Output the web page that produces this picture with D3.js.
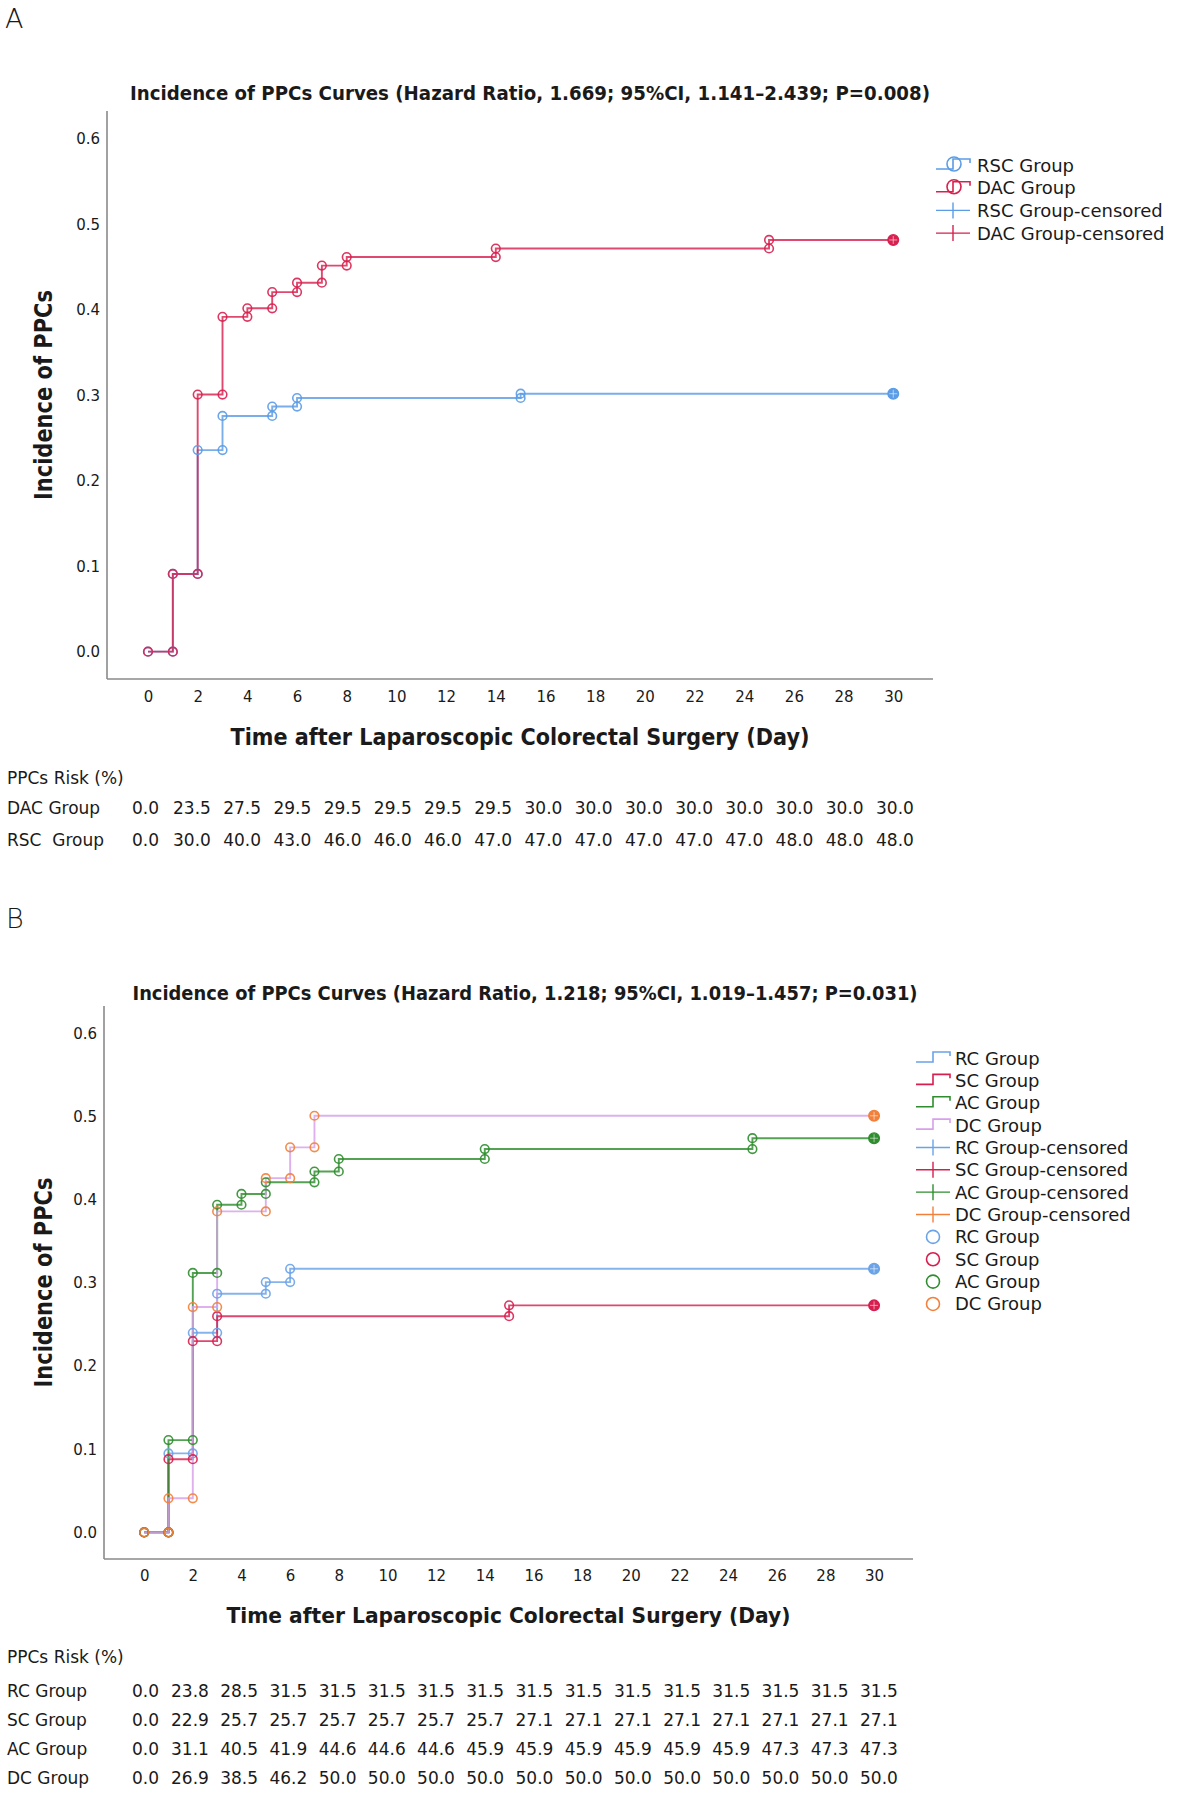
<!DOCTYPE html>
<html><head><meta charset="utf-8">
<script src="https://cdn.jsdelivr.net/npm/d3@7"></script>
<style>
html,body{margin:0;padding:0;background:#fff;}
svg{display:block;font-family:"DejaVu Sans",sans-serif;}
</style></head><body>
<svg id="c" width="1181" height="1797"></svg>
<script>
// ---------------- DATA ----------------
const xTicks = [0,2,4,6,8,10,12,14,16,18,20,22,24,26,28,30];
const yTicks = [0.0,0.1,0.2,0.3,0.4,0.5,0.6];
const endDay = 30;

// Panel A – cumulative incidence after each event day
const timesA_RSC = [0, 1, 2, 3, 5, 6, 15];
const incA_RSC   = [0, 0.091, 0.236, 0.276, 0.287, 0.297, 0.302];
const timesA_DAC = [0, 1, 2, 3, 4, 5, 6, 7, 8, 14, 25];
const incA_DAC   = [0, 0.091, 0.301, 0.392, 0.402, 0.421, 0.432, 0.452, 0.462, 0.472, 0.482];

// Panel B
const timesB_RC = [0, 1, 2, 3, 5, 6];
const incB_RC   = [0, 0.095, 0.240, 0.287, 0.301, 0.317];
const timesB_SC = [0, 1, 2, 3, 15];
const incB_SC   = [0, 0.088, 0.230, 0.260, 0.273];
const timesB_AC = [0, 1, 2, 3, 4, 5, 7, 8, 14, 25];
const incB_AC   = [0, 0.111, 0.312, 0.394, 0.407, 0.421, 0.434, 0.449, 0.461, 0.474];
const timesB_DC = [0, 1, 2, 3, 5, 6, 7];
const incB_DC   = [0, 0.041, 0.271, 0.386, 0.426, 0.463, 0.501];

// Risk tables
const riskHeader = "PPCs Risk (%)";
const riskA_DAC = [0.0,23.5,27.5,29.5,29.5,29.5,29.5,29.5,30.0,30.0,30.0,30.0,30.0,30.0,30.0,30.0];
const riskA_RSC = [0.0,30.0,40.0,43.0,46.0,46.0,46.0,47.0,47.0,47.0,47.0,47.0,47.0,48.0,48.0,48.0];
const riskB_RC = [0.0,23.8,28.5,31.5,31.5,31.5,31.5,31.5,31.5,31.5,31.5,31.5,31.5,31.5,31.5,31.5];
const riskB_SC = [0.0,22.9,25.7,25.7,25.7,25.7,25.7,25.7,27.1,27.1,27.1,27.1,27.1,27.1,27.1,27.1];
const riskB_AC = [0.0,31.1,40.5,41.9,44.6,44.6,44.6,45.9,45.9,45.9,45.9,45.9,45.9,47.3,47.3,47.3];
const riskB_DC = [0.0,26.9,38.5,46.2,50.0,50.0,50.0,50.0,50.0,50.0,50.0,50.0,50.0,50.0,50.0,50.0];

const titleA = "Incidence of PPCs Curves (Hazard Ratio, 1.669; 95%CI, 1.141\u20132.439; P=0.008)";
const titleB = "Incidence of PPCs Curves (Hazard Ratio, 1.218; 95%CI, 1.019\u20131.457; P=0.031)";
const xLabel = "Time after Laparoscopic Colorectal Surgery (Day)";
const yLabel = "Incidence of PPCs";

// ---------------- STYLE ----------------
const C = {
  blueA:"#5b9ce6", redA:"#d8214f",
  blue:"#6aa3e8", red:"#d81e4e", green:"#2f8d2f", violet:"#d7a0ea", orange:"#f2803a",
  axis:"#8a8a8a", text:"#1a1a1a"
};

const svg = d3.select("#c");
svg.append("rect").attr("width",1181).attr("height",1797).attr("fill","#fff");

function drawPanel(cfg){
  const g = svg.append("g");
  const x = d3.scaleLinear().domain([-1.65, 31.6]).range([cfg.left, cfg.right]);
  const y = d3.scaleLinear().domain([-0.032, 0.633]).range([cfg.bottom, cfg.top]);

  // panel letter
  g.append("text").attr("x",cfg.letterX).attr("y",cfg.letterY).text(cfg.letter)
    .attr("font-size",27).attr("font-weight",200).attr("fill",C.text);

  // title
  g.append("text").attr("x",cfg.titleX).attr("y",cfg.titleY).attr("text-anchor","middle")
    .attr("font-size",20).attr("font-weight","bold").attr("fill",C.text)
    .attr("textLength",cfg.titleLen).attr("lengthAdjust","spacingAndGlyphs").text(cfg.title);

  // axes
  const ax = g.append("g").attr("transform",`translate(0,${cfg.bottom})`)
    .call(d3.axisBottom(x).tickValues(xTicks).tickSize(0).tickSizeOuter(0).tickPadding(cfg.xPad));
  const ay = g.append("g").attr("transform",`translate(${cfg.left},0)`)
    .call(d3.axisLeft(y).tickValues(yTicks).tickFormat(d3.format(".1f")).tickSize(0).tickSizeOuter(0).tickPadding(7));
  [ax,ay].forEach(a=>{
    a.select(".domain").attr("stroke",C.axis).attr("stroke-width",1.6);
    a.selectAll("text").attr("font-size",15).attr("fill",C.text).attr("font-family","DejaVu Sans");
  });
  ay.select(".domain").attr("d",`M0,${cfg.top}V${cfg.bottom}`);
  ax.select(".domain").attr("d",`M${cfg.left},0H${cfg.right}`);

  // axis titles
  g.append("text").attr("x",(cfg.left+cfg.right)/2).attr("y",cfg.xLabelY).attr("text-anchor","middle")
    .attr("font-size",cfg.xLabelSize).attr("font-weight","bold").attr("fill",C.text)
    .attr("textLength",cfg.xLabelLen).attr("lengthAdjust","spacingAndGlyphs").text(xLabel);
  g.append("text").attr("transform",`translate(${cfg.yLabelX},${(cfg.top+cfg.bottom)/2}) rotate(-90)`)
    .attr("text-anchor","middle").attr("font-size",25).attr("font-weight","bold").attr("fill",C.text)
    .attr("textLength",210).attr("lengthAdjust","spacingAndGlyphs").text(yLabel);

  // curves
  const line = d3.line().x(d=>x(d[0])).y(d=>y(d[1])).curve(d3.curveStepAfter);
  cfg.series.forEach(s=>{
    const pts = s.times.map((t,i)=>[t,s.inc[i]]);
    const last = s.inc[s.inc.length-1];
    pts.push([endDay,last]);
    g.append("path").attr("d",line(pts)).attr("fill","none")
      .attr("stroke",s.line).attr("stroke-width",1.9).attr("stroke-opacity",0.82);
  });
  cfg.series.forEach(s=>{
    const marks = [[s.times[0],s.inc[0]]];
    for(let i=1;i<s.times.length;i++){ marks.push([s.times[i],s.inc[i-1]]); marks.push([s.times[i],s.inc[i]]); }
    g.selectAll(null).data(marks).enter().append("circle")
      .attr("cx",d=>x(d[0])).attr("cy",d=>y(d[1])).attr("r",4.3)
      .attr("fill","none").attr("stroke",s.mark).attr("stroke-width",1.6).attr("stroke-opacity",0.9);
    // censored end marker
    const last = s.inc[s.inc.length-1];
    const ex = x(endDay), ey = y(last);
    g.append("circle").attr("cx",ex).attr("cy",ey).attr("r",5.3)
      .attr("fill",s.mark).attr("stroke",s.mark).attr("stroke-width",1.4);
    g.append("path").attr("d",`M${ex-4},${ey}H${ex+4}M${ex},${ey-4}V${ey+4}`)
      .attr("stroke","#fff").attr("stroke-opacity",0.55).attr("stroke-width",1);
  });

  // legend
  const lg = g.append("g");
  cfg.legend.forEach((it,i)=>{
    const ty = cfg.legY + i*cfg.legStep, x0 = cfg.legX;
    if(it.type==="step" || it.type==="stepcircle"){
      lg.append("path").attr("d",`M${x0},${ty+4}H${x0+17}V${ty-6}H${x0+34}V${ty-2}`)
        .attr("fill","none").attr("stroke",it.color).attr("stroke-width",1.6);
      if(it.type==="stepcircle")
        lg.append("circle").attr("cx",x0+18).attr("cy",ty-1).attr("r",7)
          .attr("fill","none").attr("stroke",it.color).attr("stroke-width",1.6);
    } else if(it.type==="cens"){
      lg.append("path").attr("d",`M${x0},${ty}H${x0+34}M${x0+17},${ty-8}V${ty+8}`)
        .attr("fill","none").attr("stroke",it.color).attr("stroke-width",1.4);
    } else {
      lg.append("circle").attr("cx",x0+17).attr("cy",ty).attr("r",6.5)
        .attr("fill","none").attr("stroke",it.color).attr("stroke-width",1.6);
    }
    lg.append("text").attr("x",cfg.legTextX).attr("y",ty+6.5).text(it.label)
      .attr("font-size",18).attr("fill",C.text);
  });

  // risk table: first column, then evenly spaced remaining columns
  const tg = g.append("g").attr("font-size",17).attr("fill",C.text);
  tg.append("text").attr("x",7).attr("y",cfg.tabHeadY+6).text(riskHeader);
  const cx = d3.scaleLinear().domain([1,15]).range([cfg.tabSecondX,cfg.tabLastX]);
  const colX = j => j===0 ? 132 : cx(j);
  cfg.table.forEach((r,i)=>{
    const ry = cfg.tabRowY + i*cfg.tabRowStep + 6;
    tg.append("text").attr("x",7).attr("y",ry).attr("xml:space","preserve").style("white-space","pre").text(r.label);
    tg.selectAll(null).data(r.values).enter().append("text")
      .attr("x",(d,j)=>colX(j)).attr("y",ry).text(d=>d3.format(".1f")(d));
  });
}

drawPanel({
  letter:"A", letterX:5, letterY:28,
  title:titleA, titleX:530, titleY:100, titleLen:800,
  left:107, right:933, top:111, bottom:679, xPad:12,
  xLabelY:745, xLabelSize:23, xLabelLen:579, yLabelX:52,
  series:[
    {times:timesA_RSC, inc:incA_RSC, line:C.blueA, mark:C.blueA},
    {times:timesA_DAC, inc:incA_DAC, line:C.redA, mark:C.redA}
  ],
  legX:936, legTextX:977, legY:165, legStep:22.7,
  legend:[
    {type:"stepcircle", color:C.blueA, label:"RSC Group"},
    {type:"stepcircle", color:C.redA, label:"DAC Group"},
    {type:"cens", color:C.blueA, label:"RSC Group-censored"},
    {type:"cens", color:C.redA, label:"DAC Group-censored"}
  ],
  tabHeadY:778, tabRowY:808, tabRowStep:32, tabSecondX:173, tabLastX:876,
  table:[
    {label:"DAC Group", values:riskA_DAC},
    {label:"RSC  Group", values:riskA_RSC}
  ]
});

drawPanel({
  letter:"B", letterX:6, letterY:928,
  title:titleB, titleX:525, titleY:1000, titleLen:785,
  left:104, right:913, top:1006, bottom:1559, xPad:11,
  xLabelY:1623, xLabelSize:22, xLabelLen:564, yLabelX:52,
  series:[
    {times:timesB_RC, inc:incB_RC, line:C.blue, mark:C.blue},
    {times:timesB_SC, inc:incB_SC, line:C.red, mark:C.red},
    {times:timesB_AC, inc:incB_AC, line:C.green, mark:C.green},
    {times:timesB_DC, inc:incB_DC, line:C.violet, mark:C.orange}
  ],
  legX:916, legTextX:955, legY:1058, legStep:22.36,
  legend:[
    {type:"step", color:C.blue, label:"RC Group"},
    {type:"step", color:C.red, label:"SC Group"},
    {type:"step", color:C.green, label:"AC Group"},
    {type:"step", color:C.violet, label:"DC Group"},
    {type:"cens", color:C.blue, label:"RC Group-censored"},
    {type:"cens", color:C.red, label:"SC Group-censored"},
    {type:"cens", color:C.green, label:"AC Group-censored"},
    {type:"cens", color:C.orange, label:"DC Group-censored"},
    {type:"circle", color:C.blue, label:"RC Group"},
    {type:"circle", color:C.red, label:"SC Group"},
    {type:"circle", color:C.green, label:"AC Group"},
    {type:"circle", color:C.orange, label:"DC Group"}
  ],
  tabHeadY:1657, tabRowY:1691, tabRowStep:29, tabSecondX:171, tabLastX:860,
  table:[
    {label:"RC Group", values:riskB_RC},
    {label:"SC Group", values:riskB_SC},
    {label:"AC Group", values:riskB_AC},
    {label:"DC Group", values:riskB_DC}
  ]
});
</script>
</body></html>
